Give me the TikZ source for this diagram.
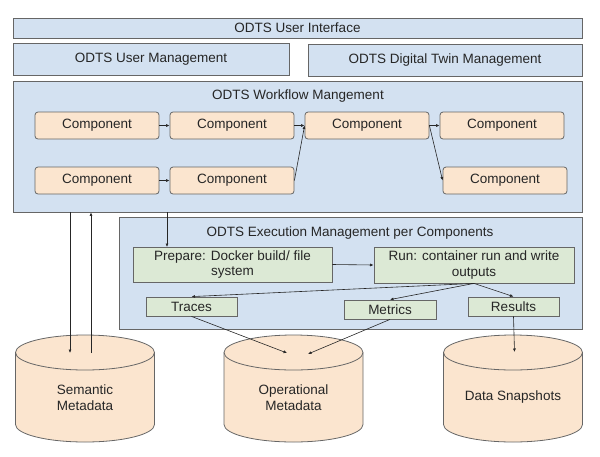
\documentclass[tikz,border=0pt]{standalone}
\usepackage{fontspec}
\setmainfont{Liberation Sans}
\usetikzlibrary{arrows.meta}
\definecolor{panel}{HTML}{D3E1F1}
\definecolor{peach}{HTML}{FBE5CF}
\definecolor{sage}{HTML}{DCE9D5}
\definecolor{edge}{HTML}{666666}
\definecolor{ink}{HTML}{262626}
\begin{document}
\begin{tikzpicture}[x=1pt,y=-1pt,line width=0.8pt,
	font=\fontsize{13.5}{15.5}\selectfont,text=ink,
	layer/.style={draw=edge,fill=panel,inner sep=0pt},
	comp/.style={draw=edge,fill=peach,rounded corners=3pt,minimum width=124pt,minimum height=27pt,inner sep=0pt},
	task/.style={draw=edge,fill=sage,inner sep=0pt,align=center},
	flow/.style={-{Latex[length=3.5pt,width=3pt]},draw=ink,line width=0.6pt}]
\newcommand{\drum}[3]{\filldraw[draw=edge,fill=peach,shift={(#2,0)}] (-69.5,352.5)--(-69.5,424.5)
	arc[start angle=180,end angle=0,x radius=69.5,y radius=17.5]--(69.5,352.5)
	arc[start angle=0,end angle=-180,x radius=69.5,y radius=17.5]--cycle;
	\draw[edge,shift={(#2,0)}] (-69.5,352.5) arc[start angle=180,end angle=0,x radius=69.5,y radius=17.5];
	\node[align=center] (#1) at (#2,397.5) {#3};}
\useasboundingbox (0,0) rectangle (600,456);

\node[layer,minimum width=569pt,minimum height=20pt] (ui)  at (297.5,28) {ODTS User Interface};
\node[layer,minimum width=276pt,minimum height=32pt] (um)  at (151,59)   {ODTS User Management};
\node[layer,minimum width=274pt,minimum height=32pt] (dtm) at (445,60)   {ODTS Digital Twin Management};
\node[layer,minimum width=569pt,minimum height=131pt] (wf) at (297.5,146.5) {};
\node (wft) at (298,96) {ODTS Workflow Mangement};

\node[comp] (c11) at (97,125.5)  {Component};
\node[comp] (c12) at (232,125.5) {Component};
\node[comp] (c13) at (367,125.5) {Component};
\node[comp] (c14) at (502,125.5) {Component};
\node[comp] (c21) at (97,180.5)  {Component};
\node[comp] (c22) at (232,180.5) {Component};
\node[comp] (c25) at (505,180.5) {Component};

\draw[flow] (c11.east)--(c12.west);
\draw[flow] (c12.east)--(c13.west);
\draw[flow] (c13.east)--(c14.west);
\draw[flow] (c21.east)--(c22.west);
\draw[flow] (c22.east)--(c13.west);
\draw[flow] (c13.east)--(c25.west);

\node[layer,minimum width=463pt,minimum height=112pt] (ex) at (350.5,273) {};
\node (ext) at (350,233) {ODTS Execution Management per Components};

\node[task,minimum width=199pt,minimum height=35pt] (prep) at (232.5,264.5) {Prepare: Docker build/ file\\system};
\node[task,minimum width=200pt,minimum height=36pt] (run)  at (474,265) {Run: container run and write\\outputs};
\node[task,minimum width=91pt,minimum height=19pt] (traces)  at (191.5,306.5) {Traces};
\node[task,minimum width=92pt,minimum height=19pt] (metrics) at (390,309.5) {Metrics};
\node[task,minimum width=91pt,minimum height=19pt] (results) at (513.5,306.5) {Results};

\drum{sem}{85}{Semantic\\Metadata}
\drum{ops}{293.5}{Operational\\Metadata}
\drum{snap}{513}{Data Snapshots}

\coordinate (s1) at (70,353);
\coordinate (s2) at (91,353);
\coordinate (p1) at (167,247);
\coordinate (o1) at (287,353);
\coordinate (o2) at (308,354);
\coordinate (d1) at (514.5,352);

\draw[flow] (s1 |- wf.south)--(s1);
\draw[flow] (s2)--(s2 |- wf.south);
\draw[flow] (p1 |- wf.south)--(p1);
\draw[flow] (prep.east)--(run.west);
\draw[flow] (run.south)--(traces.north);
\draw[flow] (run.south)--(metrics.north);
\draw[flow] (run.south)--(results.north);
\draw[flow] (traces.south)--(o1);
\draw[flow] (metrics.south)--(o2);
\draw[flow] (results.south)--(d1);
\end{tikzpicture}
\end{document}
